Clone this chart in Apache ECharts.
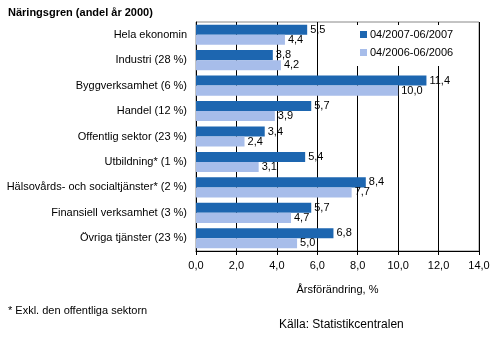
<!DOCTYPE html>
<html><head><meta charset="utf-8">
<script src="https://cdn.jsdelivr.net/npm/echarts@6/dist/echarts.min.js"></script>
<style>html,body{margin:0;padding:0;background:#fff}#c{width:497px;height:344px}</style>
</head><body><div id="c"></div>
<script>
var categories = ["Hela ekonomin","Industri (28 %)","Byggverksamhet (6 %)","Handel (12 %)","Offentlig sektor (23 %)","Utbildning* (1 %)","Hälsovårds- och socialtjänster* (2 %)","Finansiell verksamhet (3 %)","Övriga tjänster (23 %)"];
var series2007 = [5.5,3.8,11.4,5.7,3.4,5.4,8.4,5.7,6.8];
var series2006 = [4.4,4.2,10.0,3.9,2.4,3.1,7.7,4.7,5.0];
var seriesNames = ["04/2007-06/2007","04/2006-06/2006"];
var F = "'Liberation Sans', Arial, sans-serif";
function fmt(v){return v.toFixed(1).replace('.',',');}
var chart = echarts.init(document.getElementById('c'));
chart.setOption({
  animation:false,
  textStyle:{fontFamily:F},
  title:[
    {text:"Näringsgren (andel år 2000)",left:8,top:7,padding:0,textStyle:{fontFamily:F,fontSize:11,fontWeight:'bold',color:'#000'}},
    {text:"* Exkl. den offentliga sektorn",left:8,top:305,padding:0,textStyle:{fontFamily:F,fontSize:11,fontWeight:'normal',color:'#000'}},
    {text:"Källa: Statistikcentralen",left:279,top:319,padding:0,textStyle:{fontFamily:F,fontSize:12,fontWeight:'normal',color:'#000'}}
  ],
  legend:{
    orient:'vertical',left:355,top:25,itemWidth:7,itemHeight:7,itemGap:7,
    backgroundColor:'#fff',padding:[4,14,8,5],
    textStyle:{fontFamily:F,fontSize:11,color:'#000',padding:[0,0,0,-2]},
    data:seriesNames.map(function(n){return {name:n,icon:'rect'};})
  },
  grid:{left:196,right:18,top:22,bottom:93,containLabel:false,show:true,borderColor:'#888',borderWidth:1},
  xAxis:{
    type:'value',min:0,max:14,interval:2,
    name:"Årsförändring, %",nameLocation:'middle',nameGap:33,
    nameTextStyle:{fontFamily:F,fontSize:11,color:'#000'},
    axisLine:{show:true,lineStyle:{color:'#000'}},
    axisTick:{show:true,length:4,lineStyle:{color:'#000'}},
    axisLabel:{formatter:function(v){return fmt(v);},fontFamily:F,fontSize:11,color:'#000',margin:9},
    splitLine:{show:true,lineStyle:{color:'#000',width:1}}
  },
  yAxis:{
    type:'category',data:categories,inverse:true,
    axisLine:{show:true,lineStyle:{color:'#000'}},
    axisTick:{show:false},
    axisLabel:{fontFamily:F,fontSize:11,color:'#000',margin:9}
  },
  series:[
    {name:seriesNames[0],type:'bar',data:series2007,barGap:'0%',barCategoryGap:'21%',
     itemStyle:{color:'#1d66b0'},
     label:{show:true,position:'right',distance:3,formatter:function(p){return fmt(p.value);},fontFamily:F,fontSize:11,color:'#000'}},
    {name:seriesNames[1],type:'bar',data:series2006,
     itemStyle:{color:'#a7bdea'},
     label:{show:true,position:'right',distance:3,formatter:function(p){return fmt(p.value);},fontFamily:F,fontSize:11,color:'#000'}}
  ]
});
</script></body></html>
